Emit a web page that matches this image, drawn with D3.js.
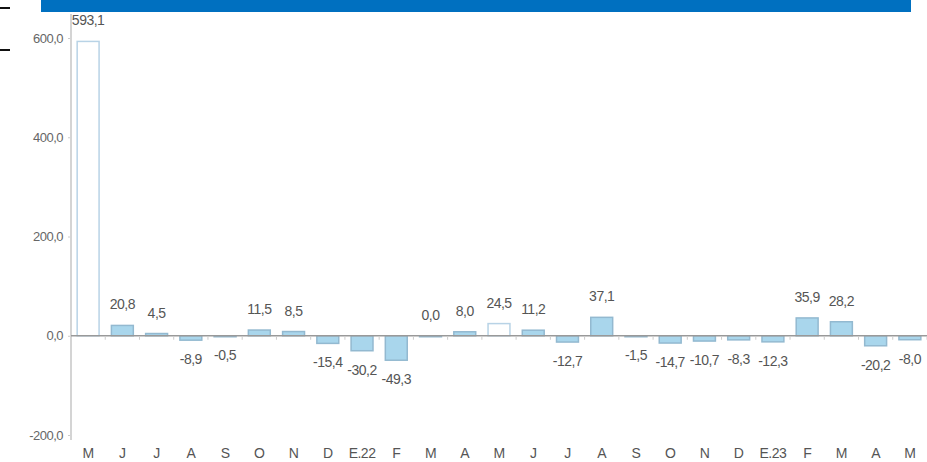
<!DOCTYPE html>
<html>
<head>
<meta charset="utf-8">
<script src="https://cdn.jsdelivr.net/npm/d3@7"></script>
<style>
  body { margin: 0; background: #fff; }
  svg { display: block; font-family: "Liberation Sans Narrow", "Arial Narrow", "Liberation Sans", sans-serif; }
</style>
</head>
<body>
<div class="container"></div>
<script>
// months, May 2021 .. May 2023
var months = ["M","J","J","A","S","O","N","D","E.22","F","M","A","M","J","J","A","S","O","N","D","E.23","F","M","A","M"];
var values = [593.1, 20.8, 4.5, -8.9, -0.5, 11.5, 8.5, -15.4, -30.2, -49.3, 0.0, 8.0, 24.5, 11.2, -12.7, 37.1, -1.5, -14.7, -10.7, -8.3, -12.3, 35.9, 28.2, -20.2, -8.0];
// bars drawn hollow (same month, highlighted)
var hollow = [0, 12];
var yTicks = [-200, 0, 200, 400, 600];

var width = 927, height = 462;

var svg = d3.select('.container').append('svg')
	.attr('width', width)
	.attr('height', height);

// header band + left marks
svg.append('rect')
	.attr('x', 41).attr('y', 0)
	.attr('width', 870).attr('height', 12)
	.style('fill', '#0070c0');
svg.append('rect').attr('x', 0).attr('y', 7).attr('width', 10).attr('height', 2).style('fill', '#111');
svg.append('rect').attr('x', 0).attr('y', 49).attr('width', 10).attr('height', 2).style('fill', '#111');

var fmt = function(v){
	return d3.format('.1f')(v).replace('.', ',').replace('\u2212', '-');
};

var x = d3.scaleBand()
	.domain(d3.range(months.length))
	.range([71, 927])
	.paddingInner(0.36)
	.paddingOuter(0.18);

var y = d3.scaleLinear()
	.domain([-200, 600])
	.range([435, 38]);

// y axis
var yAxis = svg.append('g')
	.attr('transform', 'translate(71,0)')
	.call(d3.axisLeft(y).tickValues(yTicks).tickSize(3).tickPadding(5).tickFormat(fmt));
yAxis.select('.domain').remove();
yAxis.selectAll('line').style('stroke', '#ccc');
yAxis.selectAll('text').style('fill', '#666').style('font-size', '13px').style('letter-spacing', '-0.5px');
svg.append('line')
	.attr('x1', 71).attr('x2', 71)
	.attr('y1', 14).attr('y2', 440)
	.style('stroke', '#d4d4d4').style('stroke-width', 2);

// bars
var bars = svg.append('g');
bars.selectAll('rect')
	.data(values)
	.enter().append('rect')
	.attr('x', function(d, i){ return x(i); })
	.attr('y', function(d){ return y(Math.max(d, 0)); })
	.attr('width', x.bandwidth())
	.attr('height', function(d){ return Math.max(Math.abs(y(d) - y(0)), 1); })
	.style('fill', function(d, i){ return hollow.indexOf(i) >= 0 ? '#fff' : '#a9d6ec'; })
	.style('stroke', function(d, i){ return hollow.indexOf(i) >= 0 ? '#b8d3e6' : '#93b9d0'; })
	.style('stroke-width', 1.5);

// zero line and x ticks
svg.append('line')
	.attr('x1', 71).attr('x2', 927)
	.attr('y1', y(0)).attr('y2', y(0))
	.style('stroke', '#999').style('stroke-width', 1.5);
var step = x.step();
svg.append('g').selectAll('line')
	.data(d3.range(months.length))
	.enter().append('line')
	.attr('x1', function(i){ return x(i) + x.bandwidth() / 2 + step / 2; })
	.attr('x2', function(i){ return x(i) + x.bandwidth() / 2 + step / 2; })
	.attr('y1', y(0) + 1).attr('y2', y(0) + 4)
	.style('stroke', '#ccc');

// value labels
svg.append('g').selectAll('text')
	.data(values)
	.enter().append('text')
	.attr('x', function(d, i){ return x(i) + x.bandwidth() / 2; })
	.attr('y', function(d){ return d >= 0 ? y(d) - 16 : y(d) + 24; })
	.attr('text-anchor', 'middle')
	.style('font-size', '14px')
	.style('letter-spacing', '-0.5px')
	.style('fill', '#555')
	.text(fmt);

// month labels
svg.append('g').selectAll('text')
	.data(months)
	.enter().append('text')
	.attr('x', function(d, i){ return x(i) + x.bandwidth() / 2; })
	.attr('y', 458)
	.attr('text-anchor', 'middle')
	.style('font-size', '14px')
	.style('letter-spacing', '-0.5px')
	.style('fill', '#555')
	.text(function(d){ return d; });
</script>
</body>
</html>
